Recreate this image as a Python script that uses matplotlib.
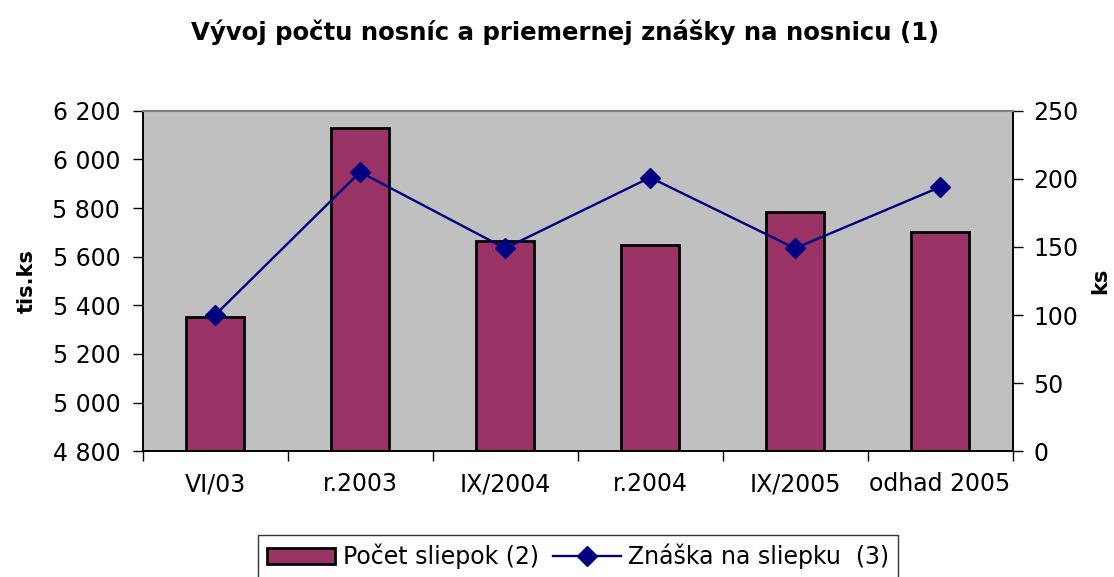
import matplotlib.pyplot as plt
import numpy as np

plt.rcParams['font.family'] = ['DejaVu Sans']

# data
categories = ['VI/03', 'r.2003', 'IX/2004', 'r.2004', 'IX/2005', 'odhad 2005']
sliepky = [5350, 6130, 5665, 5648, 5782, 5702]      # tis. ks
znaska = [100, 205, 149, 201, 149, 194]             # ks na sliepku

fig = plt.figure(figsize=(11.14, 5.77), dpi=100)
ax = fig.add_axes([0.128, 0.218, 0.781, 0.590])
ax.set_facecolor('#C0C0C0')

x = np.arange(len(categories))
bars = ax.bar(x, [v - 4800 for v in sliepky], bottom=4800, width=0.4,
              color='#993366', edgecolor='black', linewidth=2,
              label='Počet sliepok (2)', zorder=2)
ax.set_xlim(-0.5, len(categories) - 0.5)
ax.set_ylim(4800, 6200)
ax.set_yticks(range(4800, 6201, 200))
ax.set_yticklabels([f'{v:,}'.replace(',', ' ') for v in range(4800, 6201, 200)])
ax.set_xticks(x)
ax.set_xticklabels(categories)
ax.set_xticks(np.arange(-0.5, len(categories), 1), minor=True)
ax.tick_params(axis='x', which='major', length=0, pad=15, labelsize=17)
ax.tick_params(axis='x', which='minor', length=7, width=1, direction='out')
ax.tick_params(axis='y', length=7, width=1, direction='out', labelsize=17, pad=9)
ax.set_ylabel('tis.ks', fontsize=15, fontweight='bold', labelpad=11)

ax2 = ax.twinx()
line, = ax2.plot(x, znaska, color='#000080', marker='D', markersize=10,
                 linewidth=1.7, label='Znáška na sliepku  (3)', zorder=3)
ax2.set_ylim(0, 250)
ax2.set_yticks(range(0, 251, 50))
ax2.tick_params(axis='y', length=7, width=1, direction='out', labelsize=17, pad=8)
ax2.set_ylabel('ks', fontsize=15, fontweight='bold', labelpad=8, rotation=90)

for a in (ax, ax2):
    a.spines['top'].set_color('#808080')
    a.spines['top'].set_linewidth(1.5)
    a.spines['left'].set_linewidth(1.2)
    a.spines['right'].set_linewidth(1.2)
    a.spines['bottom'].set_linewidth(1.2)

fig.suptitle('Vývoj počtu nosníc a priemernej znášky na nosnicu (1)',
             fontsize=17.6, fontweight='bold', y=0.967, x=0.507, va='top')

leg = fig.legend([bars, line], ['Počet sliepok (2)', 'Znáška na sliepku  (3)'],
                 loc='upper center', bbox_to_anchor=(0.519, 0.073), ncol=2,
                 fontsize=17, frameon=True, fancybox=False, edgecolor='black',
                 handlelength=2.9, handletextpad=0.3, columnspacing=0.6,
                 borderpad=0.37, borderaxespad=0)
leg.get_frame().set_linewidth(1)

fig.savefig('out.png', dpi=100)
